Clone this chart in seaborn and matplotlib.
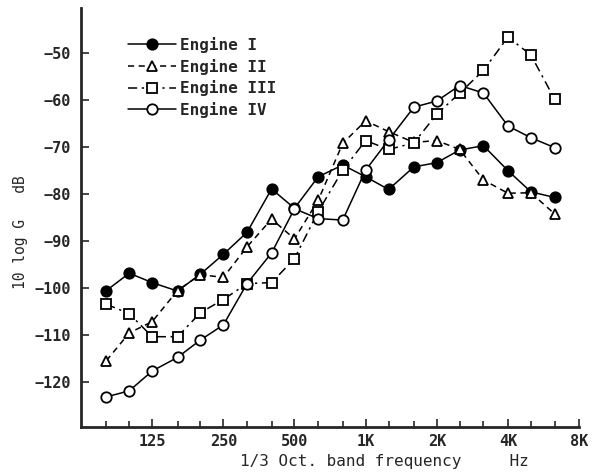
import numpy as np
import pandas as pd
import seaborn as sns
import matplotlib.pyplot as plt
from matplotlib.legend_handler import HandlerLine2D

# 1/3 octave band centre frequencies (Hz)
freqs = [80, 100, 125, 160, 200, 250, 315, 400, 500, 630,
         800, 1000, 1250, 1600, 2000, 2500, 3150, 4000, 5000, 6300]

# 10 log G, dB
engine_1 = [-100.6, -96.9, -98.9, -100.7, -97.1, -92.9, -88.2, -79.0, -83.1, -76.4,
            -73.9, -76.4, -79.1, -74.3, -73.4, -70.7, -69.8, -75.1, -79.6, -80.8]
engine_2 = [-115.5, -109.6, -107.2, -100.6, -97.2, -97.8, -91.3, -85.4, -89.6, -81.4,
            -69.3, -64.5, -66.8, -69.1, -68.7, -70.6, -77.1, -79.9, -79.8, -84.3]
engine_3 = [-103.5, -105.5, -110.4, -110.4, -105.3, -102.5, -99.1, -98.9, -93.8, -83.8,
            -75.0, -68.7, -70.6, -69.2, -63.1, -58.6, -53.8, -46.7, -50.5, -59.9]
engine_4 = [-123.2, -121.9, -117.7, -114.8, -111.1, -107.9, -99.1, -92.6, -83.2, -85.3,
            -85.6, -75.0, -68.6, -61.6, -60.3, -57.0, -58.6, -65.6, -68.1, -70.2]

names = ["Engine I", "Engine II", "Engine III", "Engine IV"]
major_ticks = [125, 250, 500, 1000, 2000, 4000, 8000]
major_labels = ["125", "250", "500", "1K", "2K", "4K", "8K"]
minor_ticks = [80, 100, 160, 200, 315, 400, 630, 800, 1250, 1600, 2500, 3150, 5000, 6300]
y_ticks = [-120, -110, -100, -90, -80, -70, -60, -50]

df = pd.DataFrame({"freq": freqs * 4,
                   "level": engine_1 + engine_2 + engine_3 + engine_4,
                   "engine": np.repeat(names, len(freqs))})

sns.set_style("ticks")
plt.rcParams["font.family"] = ["DejaVu Sans Mono"]
plt.rcParams["font.weight"] = "bold"

styles = {
    "Engine I": dict(marker="o", mfc="black", linestyle="-"),
    "Engine II": dict(marker="^", mfc="white", linestyle=(0, (4, 3))),
    "Engine III": dict(marker="s", mfc="white", linestyle=(0, (6, 3, 1.5, 3))),
    "Engine IV": dict(marker="o", mfc="white", linestyle="-"),
}

fig = plt.figure(figsize=(5.93, 4.72), dpi=100)
ax = fig.add_axes([0.1366, 0.0953, 0.840, 0.888])

for name in names:
    sub = df[df["engine"] == name]
    sns.lineplot(data=sub, x="freq", y="level", ax=ax, color="black",
                 linewidth=1.1, markersize=7.5, markeredgewidth=1.3,
                 markeredgecolor="black", label=name, **styles[name])


class LeftMarker(HandlerLine2D):
    # put the marker at the left end of the legend line
    def get_xdata(self, legend, xdescent, ydescent, width, height, fontsize):
        return [-xdescent, -xdescent + width], [-xdescent]


ax.set_xscale("log", base=2)
ax.set_xlim(62.5, 8000)
ax.set_ylim(-129.6, -40.5)
ax.set_xticks(major_ticks)
ax.set_xticklabels(major_labels)
ax.set_xticks(minor_ticks, minor=True)
ax.set_xticklabels([], minor=True)
ax.set_yticks(y_ticks)
ax.tick_params(axis="both", which="major", direction="in", length=6, width=1.2,
               labelsize=11, pad=5)
ax.tick_params(axis="x", which="minor", direction="in", length=4, width=1.2)
ax.tick_params(axis="y", pad=7)

sns.despine(ax=ax)
for s in ["left", "bottom"]:
    ax.spines[s].set_linewidth(2)

ax.set_xlabel("1/3 Oct. band frequency     Hz", fontsize=11.5)
ax.xaxis.set_label_coords(0.61, -0.065)
ax.set_ylabel("10 log G   dB", fontsize=10.5)
ax.yaxis.set_label_coords(-0.107, 0.465)

leg = ax.legend(loc="upper left", bbox_to_anchor=(0.065, 0.965), frameon=False,
                fontsize=11.5, handlelength=3.0, handletextpad=0.3,
                labelspacing=0.35,
                handler_map={plt.Line2D: LeftMarker()})

fig.savefig("out.png", dpi=100)
